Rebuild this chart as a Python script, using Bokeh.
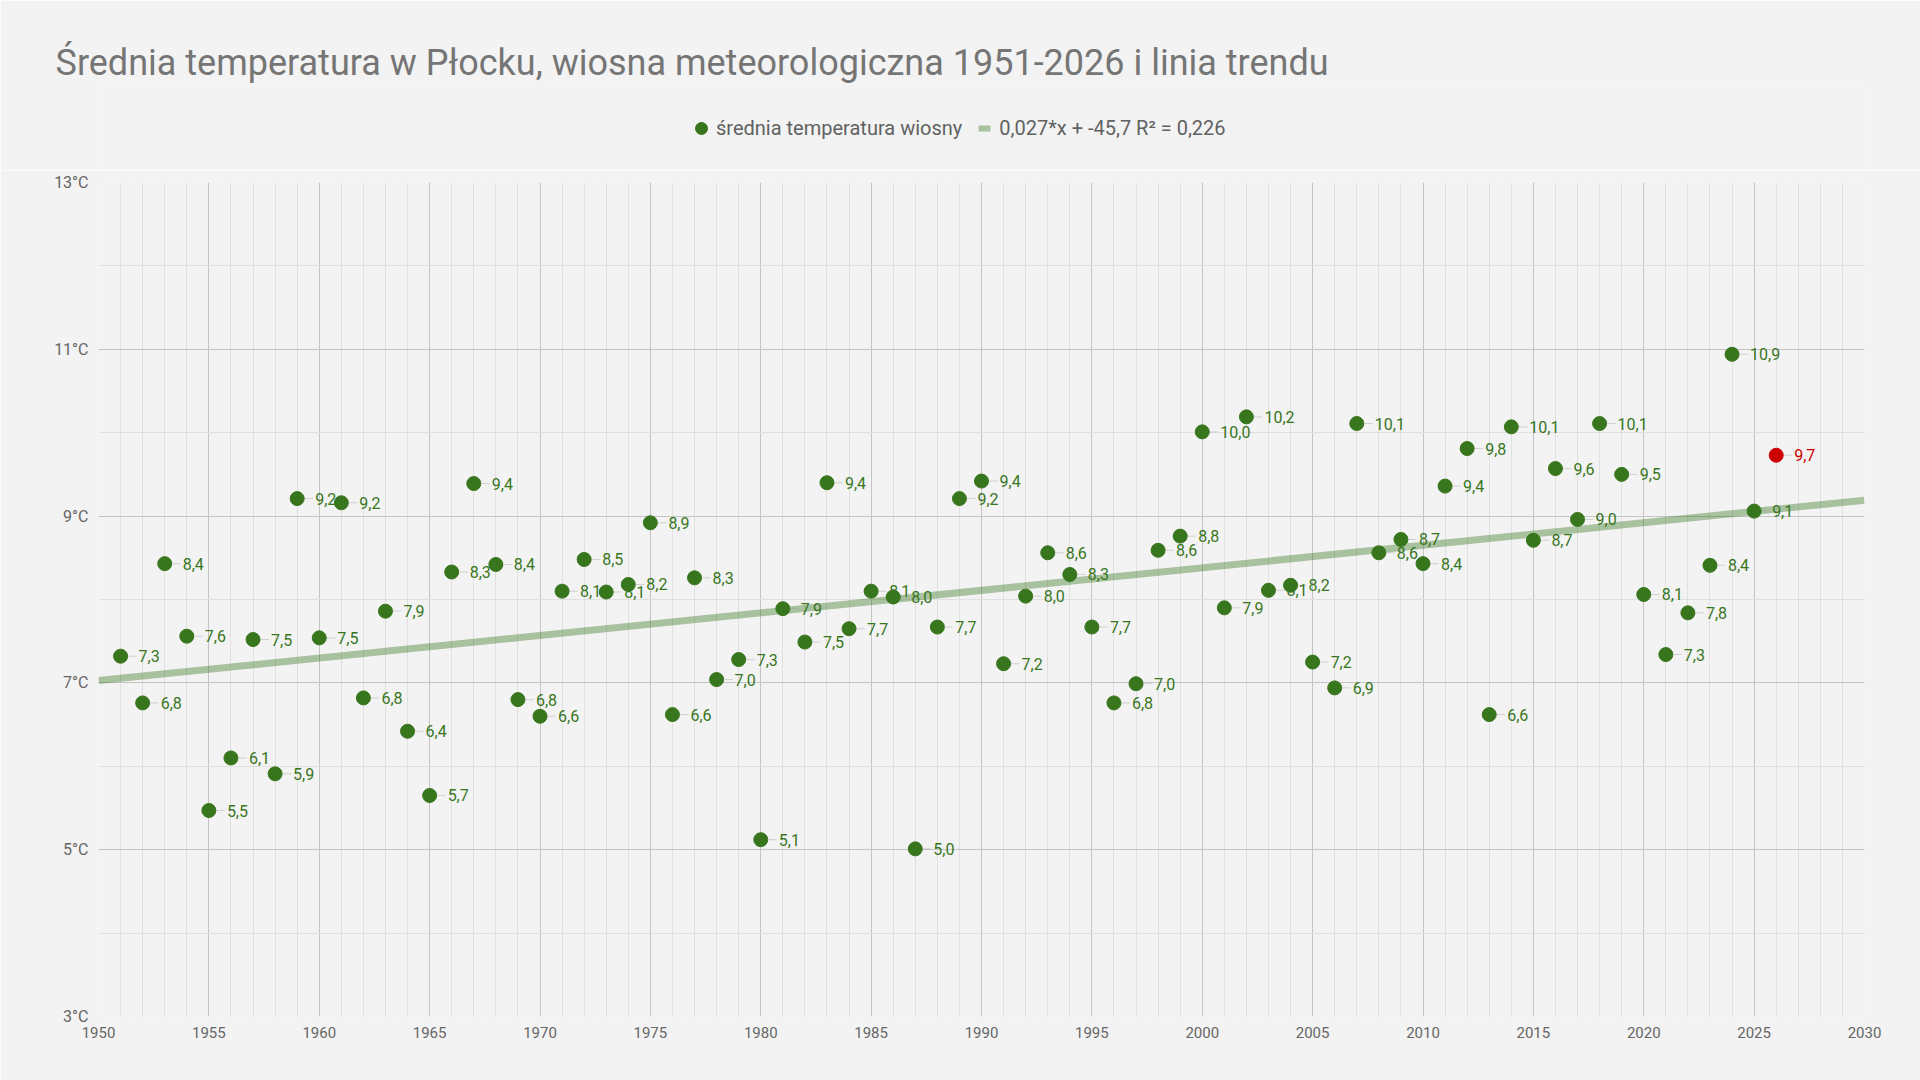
from bokeh.plotting import figure
from bokeh.layouts import column
from bokeh.models import (ColumnDataSource, Range1d, FixedTicker, PrintfTickFormatter,
                          Title, Legend, LegendItem)
from bokeh.embed import file_html
from bokeh.resources import INLINE
from bokeh.core.properties import value

# Mean spring (MAM) temperature in Płock, °C
years = list(range(1951, 2027))
temps = [
    7.32, 6.76, 8.43, 7.56, 5.47, 6.10, 7.52, 5.91, 9.21, 7.54,   # 1951-1960
    9.16, 6.82, 7.86, 6.42, 5.65, 8.33, 9.39, 8.42, 6.80, 6.60,   # 1961-1970
    8.10, 8.48, 8.09, 8.18, 8.92, 6.62, 8.26, 7.04, 7.28, 5.12,   # 1971-1980
    7.89, 7.49, 9.40, 7.65, 8.10, 8.03, 5.01, 7.67, 9.21, 9.42,   # 1981-1990
    7.23, 8.04, 8.56, 8.30, 7.67, 6.76, 6.99, 8.59, 8.76, 10.01,  # 1991-2000
    7.90, 10.19, 8.11, 8.17, 7.25, 6.94, 10.11, 8.56, 8.72, 8.43, # 2001-2010
    9.36, 9.81, 6.62, 10.07, 8.71, 9.57, 8.96, 10.11, 9.50, 8.06, # 2011-2020
    7.34, 7.84, 8.41, 10.94, 9.06, 9.73,                          # 2021-2026
]
current_year = 2026

# Linear trend reported in the legend
trend_slope = 0.02704
trend_intercept = -45.70
trend_r2 = 0.226

x_ticks = [1950, 1955, 1960, 1965, 1970, 1975, 1980, 1985, 1990, 1995,
           2000, 2005, 2010, 2015, 2020, 2025, 2030]
y_ticks = [3, 5, 7, 9, 11, 13]

TITLE = "Średnia temperatura w Płocku, wiosna meteorologiczna 1951-2026 i linia trendu"
SERIES_NAME = "średnia temperatura wiosny"

GREEN = "#38761d"
RED = "#cc0000"
BG = "#f3f3f3"
FONT = "Roboto"
W = 1920
HEAD_H = 170
MAIN_H = 1080 - HEAD_H
BORDER_L, BORDER_R = 98, 56


def pl(x, digits):
    return f"{x:.{digits}f}".replace(".", ",")


colors = [RED if y == current_year else GREEN for y in years]
labels = [pl(t, 1) for t in temps]
src = ColumnDataSource(dict(
    x=years, y=temps, color=colors, label=labels,
    lx0=[y + 0.34 for y in years], lx1=[y + 0.72 for y in years],
))

# ---- header: title + legend ---------------------------------------------
head = figure(width=W, height=HEAD_H, output_backend="svg", toolbar_location=None,
              x_range=Range1d(0, 1), y_range=Range1d(0, 1),
              min_border_left=BORDER_L, min_border_right=BORDER_R,
              min_border_top=0, min_border_bottom=0,
              background_fill_color=BG, border_fill_color=BG, outline_line_color=None)
head.axis.visible = False
head.grid.visible = False
head.title = Title(text=TITLE, align="left", offset=-43, text_font=FONT,
                   text_font_size="36px", text_font_style="normal",
                   text_color="#757575", standoff=0,
                   padding=dict(left=0, right=0, top=39, bottom=0))

# legend proxies (their only point lies outside the header ranges)
first = dict(x=years[:1], y=temps[:1])
dot_swatch = head.scatter(marker="circle", fill_color=GREEN, line_color=GREEN,
                          source=ColumnDataSource(first))
trend_swatch = head.scatter(marker="dash", line_color=GREEN, line_alpha=0.4,
                            line_width=6, source=ColumnDataSource(first))

trend_txt = f"{pl(trend_slope, 3)}*x + {pl(trend_intercept, 1)} R² = {pl(trend_r2, 3)}"
legend = Legend(items=[LegendItem(label=SERIES_NAME, renderers=[dot_swatch]),
                       LegendItem(label=trend_txt, renderers=[trend_swatch])],
                orientation="horizontal", location=(686 - BORDER_L, HEAD_H - 143),
                glyph_width=30, glyph_height=30, label_standoff=-3, spacing=7,
                padding=0, margin=0, border_line_color=None, background_fill_alpha=0,
                inactive_fill_alpha=0,
                label_text_font=FONT, label_text_font_size="20px",
                label_text_color="#616161")
head.add_layout(legend, "center")

# ---- main chart -----------------------------------------------------------
p = figure(width=W, height=MAIN_H, output_backend="svg", toolbar_location=None,
           title=None, x_range=Range1d(1950, 2030), y_range=Range1d(3, 13),
           min_border_left=BORDER_L, min_border_right=BORDER_R, min_border_top=12,
           min_border_bottom=64, background_fill_color=BG, border_fill_color=BG,
           outline_line_color=None)

for ax in (p.xaxis[0], p.yaxis[0]):
    ax.axis_line_color = None
    ax.major_tick_line_color = None
    ax.minor_tick_line_color = None
    ax.major_label_text_font = FONT
    ax.major_label_text_color = "#666666"
p.xaxis.major_label_text_font_size = "15px"
p.yaxis.major_label_text_font_size = "16px"

p.xaxis.ticker = FixedTicker(ticks=x_ticks, minor_ticks=list(range(1950, 2031)))
p.yaxis.ticker = FixedTicker(ticks=y_ticks, minor_ticks=list(range(3, 14)))
p.yaxis.formatter = PrintfTickFormatter(format="%d°C")
p.xaxis.major_label_standoff = 4
p.yaxis.major_label_standoff = 4

p.xgrid.grid_line_color = "#c4c4c4"
p.ygrid.grid_line_color = "#c4c4c4"
p.xgrid.minor_grid_line_color = "#e0e0e0"
p.ygrid.minor_grid_line_color = "#e0e0e0"

# trend line across the full x range
tx = [1950, 2030]
ty = [trend_slope * x + trend_intercept for x in tx]
p.line(tx, ty, line_color=GREEN, line_alpha=0.4, line_width=7)

# leader lines between points and their labels
p.segment(x0="lx0", y0="y", x1="lx1", y1="y", source=src,
          line_color="#9e9e9e", line_alpha=0.4, line_width=1)

# points
p.scatter("x", "y", source=src, size=14, fill_color="color", line_color="color")

# value labels
p.text("x", "y", text="label", source=src, x_offset=18, text_color="color",
       text_font=value(FONT), text_font_size="16px", text_baseline="middle",
       text_align="left")

layout = column(head, p, spacing=0)
html = file_html(layout, INLINE)
html = html.replace("<body>", f'<body style="margin:0;background:{BG}">', 1)
open("out.html", "w").write(html)
